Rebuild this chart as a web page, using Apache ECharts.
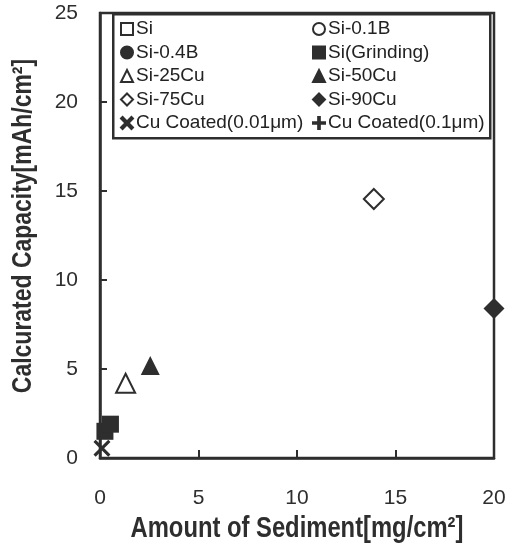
<!DOCTYPE html>
<html><head><meta charset="utf-8">
<script src="https://cdn.jsdelivr.net/npm/echarts@6/dist/echarts.min.js"></script>
<style>html,body{margin:0;padding:0;background:#fff}#c{width:507px;height:547px}</style>
</head><body><div id="c"></div>
<script>
const xTicks = [0, 5, 10, 15, 20];
const yTicks = [0, 5, 10, 15, 20, 25];
const xTitle = 'Amount of Sediment[mg/cm²]';
const yTitle = 'Calcurated Capacity[mAh/cm²]';
const seriesNames = ['Si','Si-0.1B','Si-0.4B','Si(Grinding)','Si-25Cu','Si-50Cu','Si-75Cu','Si-90Cu','Cu Coated(0.01μm)','Cu Coated(0.1μm)'];
const si = [];
const si01B = [];
const si04B = [];
const siGrinding = [[0.25, 1.5], [0.53, 1.9]];
const si25Cu = [[1.3, 4.2]];
const si50Cu = [[2.55, 5.2]];
const si75Cu = [[13.9, 14.55]];
const si90Cu = [[20, 8.4]];
const cuCoated001 = [[0.1, 0.55]];
const cuCoated01 = [];

const C = '#2e2e2e';
const FONT = '"Liberation Sans", Arial, sans-serif';
const X_PATH = 'path://M0,1.3L1.3,0L5,3.7L8.7,0L10,1.3L6.3,5L10,8.7L8.7,10L5,6.3L1.3,10L0,8.7L3.7,5Z';
const PLUS_PATH = 'path://M4.3,0H5.7V4.3H10V5.7H5.7V10H4.3V5.7H0V4.3H4.3Z';

const defs = [
  [si, 'emptyRect', 16],
  [si01B, 'emptyCircle', 16],
  [si04B, 'circle', 16],
  [siGrinding, 'rect', 17],
  [si25Cu, 'emptyTriangle', 19],
  [si50Cu, 'triangle', 19],
  [si75Cu, 'emptyDiamond', 20],
  [si90Cu, 'diamond', 21],
  [cuCoated001, X_PATH, 17],
  [cuCoated01, PLUS_PATH, 17]
];
const series = defs.map((d, i) => ({
  name: seriesNames[i], type: 'scatter', data: d[0], symbol: d[1], symbolSize: d[2],
  itemStyle: { color: C, borderColor: C, borderWidth: d[1].startsWith('empty') ? 2.5 : 0, opacity: 1 },
  z: 3
}));

const legendCommon = {
  orient: 'vertical', itemWidth: 12, itemHeight: 12, itemGap: 4.5, z: 20, padding: 0,
  textStyle: { fontFamily: FONT, fontSize: 19, color: '#222', lineHeight: 19, padding: [0, 0, 0, -2] },
  itemStyle: { borderWidth: 2 }, selectedMode: false
};

const chart = echarts.init(document.getElementById('c'), null, { renderer: 'canvas' });
chart.setOption({
  animation: false,
  backgroundColor: '#fff',
  grid: { left: 100, right: 13, top: 13, bottom: 89, show: true, borderColor: C, borderWidth: 2.5,
          backgroundColor: 'transparent', containLabel: false, outerBoundsMode: 'none' },
  xAxis: {
    type: 'value', min: xTicks[0], max: xTicks[xTicks.length - 1], interval: 5,
    axisLine: { show: true, onZero: false, lineStyle: { color: C, width: 2.5 } },
    axisTick: { show: true, inside: true, length: 8, lineStyle: { color: C, width: 2 } },
    axisLabel: { fontFamily: FONT, fontSize: 21, color: C, margin: 30 },
    splitLine: { show: false }
  },
  yAxis: {
    type: 'value', min: yTicks[0], max: yTicks[yTicks.length - 1], interval: 5,
    axisLine: { show: true, onZero: false, lineStyle: { color: C, width: 2.5 } },
    axisTick: { show: true, inside: true, length: 7, lineStyle: { color: C, width: 2 } },
    axisLabel: { fontFamily: FONT, fontSize: 21, color: C, margin: 22 },
    splitLine: { show: false }
  },
  graphic: [{
    type: 'rect', left: 112, top: 13, z: 10,
    shape: { width: 377, height: 124 },
    style: { fill: '#fff', stroke: C, lineWidth: 2.5 }
  }, {
    type: 'text', x: 297, y: 529, scaleX: 0.82, z: 10,
    style: { text: xTitle, font: 'bold 29px "Liberation Sans", Arial, sans-serif', fill: C, align: 'center', verticalAlign: 'middle' }
  }, {
    type: 'text', x: 23, y: 226, scaleX: 0.82, rotation: Math.PI / 2, z: 10,
    style: { text: yTitle, font: 'bold 28px "Liberation Sans", Arial, sans-serif', fill: C, align: 'center', verticalAlign: 'middle' }
  }],
  legend: [
    Object.assign({}, legendCommon, { left: 120, top: 19.5, data: seriesNames.filter((_, i) => i % 2 === 0) }),
    Object.assign({}, legendCommon, { left: 312, top: 19.5, data: seriesNames.filter((_, i) => i % 2 === 1) })
  ],
  series: series
});
</script>
</body></html>
